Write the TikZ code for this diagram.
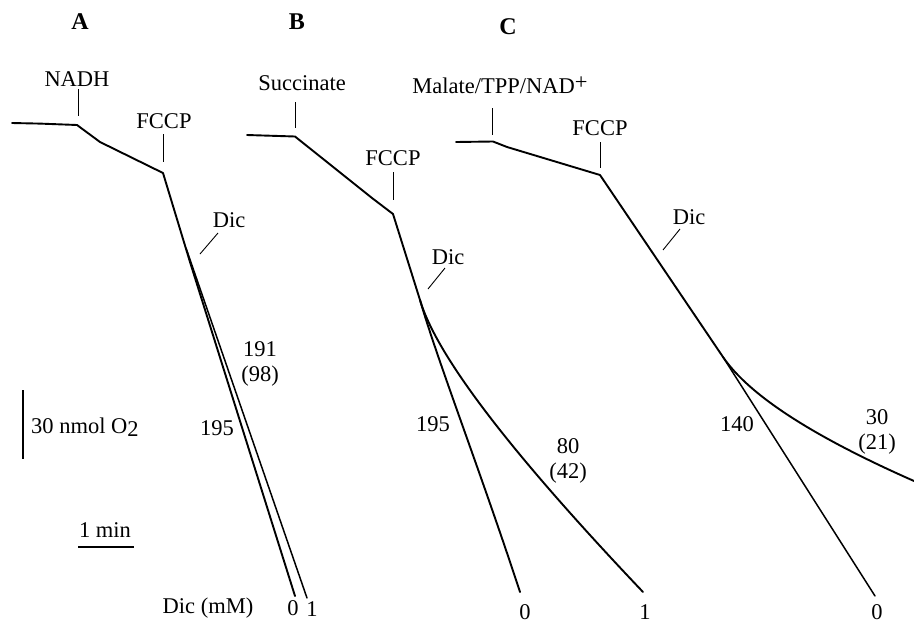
\documentclass[tikz,border=0pt]{standalone}
\usepackage{fontspec}
\setmainfont{Liberation Serif}
\begin{document}
\begin{tikzpicture}[x=1pt,y=-1pt,
  trace/.style={line width=1.9pt,line join=round,line cap=round},
  thin trace/.style={line width=1.5pt,line join=round,line cap=round},
  tick/.style={line width=0.9pt},
  lbl/.style={inner sep=0pt,font=\fontsize{22.5}{26}\selectfont},
  panel/.style={inner sep=0pt,font=\fontsize{24}{28}\selectfont\bfseries}]
\useasboundingbox (0,0) rectangle (914,627);
% panel letters
\node[panel] (pA) at (80,22) {A};
\node[panel] (pB) at (297,22) {B};
\node[panel] (pC) at (508,27) {C};
% ---------- trace A ----------
\draw[trace] (12,123) -- (40,123.6) -- (77,125) -- (100,142) -- (163,173) -- (190,262) -- (295,596);
\draw[thin trace] (186,248) -- (307,598);
\node[lbl] (nadh) at (77,79) {NADH};
\draw[tick] (78,89) -- (78,116);
\node[lbl] (fccpA) at (164,121) {FCCP};
\draw[tick] (163,134) -- (163,162);
\node[lbl] (dicA) at (229,220) {Dic};
\draw[tick] (200,254) -- (218,233);
\node[lbl] (r191) at (260,349) {191};
\node[lbl] (r98) at (260,376) {(98)};
\node[lbl] (r195A) at (217,428) {195};
\node[lbl] (dicmm) at (208,608) {Dic (mM)};
\node[lbl] (zA) at (293,608) {0};
\node[lbl] (oA) at (312,609) {1};
% scale bars
\draw[line width=1.5pt] (23,390) -- (23,459);
\node[lbl,anchor=west] (nmol) at (31,427) {30 nmol O\raisebox{-0.3ex}{2}};
\node[lbl] (min) at (105,530) {1 min};
\draw[line width=1.2pt] (78,547) -- (134,547);
% ---------- trace B ----------
\draw[trace] (247,135) -- (295,136.5) -- (372,198) -- (393,214) -- (420,300)
  .. controls (438,362) and (480,470) .. (520,592);
\draw[trace] (420,300) .. controls (437,357) and (512,454) .. (643,592);
\node[lbl] (succ) at (302,83) {Succinate};
\draw[tick] (295,102) -- (295,128);
\node[lbl] (fccpB) at (393,158) {FCCP};
\draw[tick] (393,172) -- (393,200);
\node[lbl] (dicB) at (448,257) {Dic};
\draw[tick] (428,289) -- (445,268);
\node[lbl] (r195B) at (433,424) {195};
\node[lbl] (r80) at (568,446) {80};
\node[lbl] (r42) at (568,473) {(42)};
\node[lbl] (zB) at (525,612) {0};
\node[lbl] (oB) at (645,612) {1};
% ---------- trace C ----------
\draw[trace] (456,142) -- (493,141.5) -- (507,147) -- (600,175) -- (723,357);
\draw[thin trace] (723,357) -- (875,596);
\draw[trace] (723,357) .. controls (749,395) and (812,436) .. (914,481);
\node[lbl] (malate) at (500,85) {Malate/TPP/NAD\raisebox{0.35ex}{+}};
\draw[tick] (492,108) -- (492,135);
\node[lbl] (fccpC) at (600,128) {FCCP};
\draw[tick] (600,142) -- (600,168);
\node[lbl] (dicC) at (689,217) {Dic};
\draw[tick] (663,250) -- (680,229);
\node[lbl] (r140) at (737,424) {140};
\node[lbl] (r30) at (877,417) {30};
\node[lbl] (r21) at (877,444) {(21)};
\node[lbl] (zC) at (877,612) {0};
\end{tikzpicture}
\end{document}
